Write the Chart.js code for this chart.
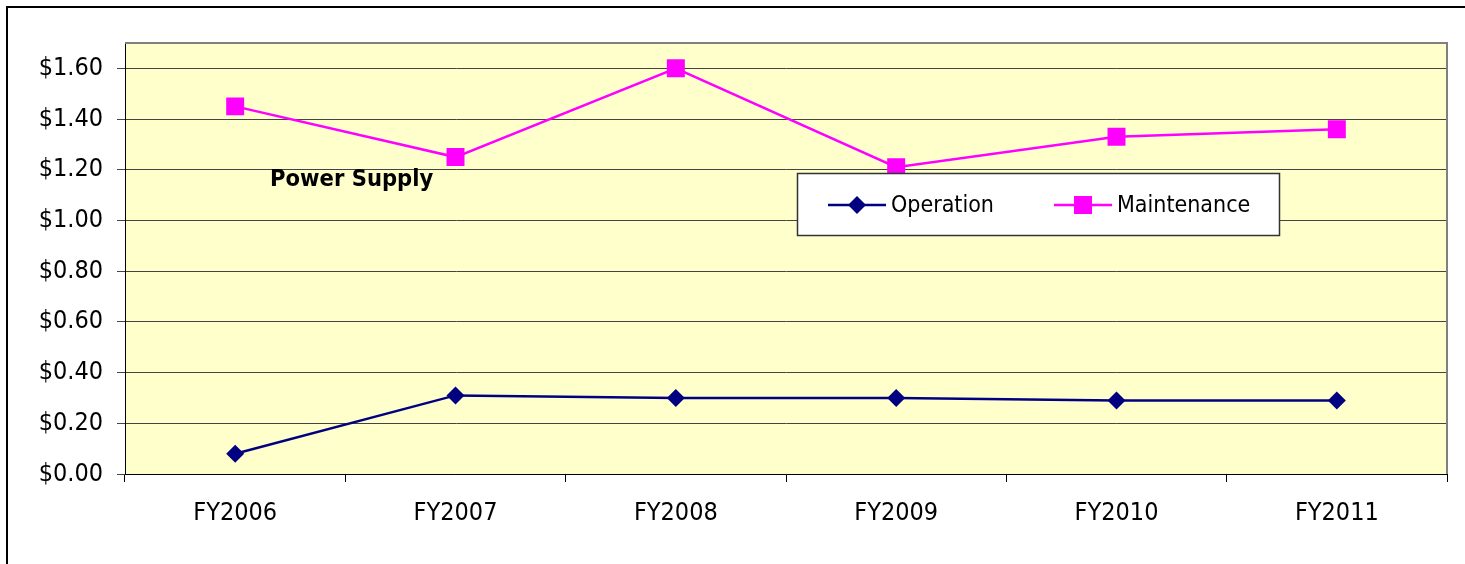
<!DOCTYPE html>
<html>
<head>
<meta charset="utf-8">
<script src="https://cdn.jsdelivr.net/npm/chart.js@4/dist/chart.umd.min.js"></script>
<style>
  html, body { margin: 0; padding: 0; background: #fff; }
  #wrap { width: 1465px; height: 564px; }
</style>
</head>
<body>
<div id="wrap"><canvas id="myChart" width="1465" height="564"></canvas></div>
<script>
var categories = ['FY2006', 'FY2007', 'FY2008', 'FY2009', 'FY2010', 'FY2011'];
var operation = [0.08, 0.31, 0.30, 0.30, 0.29, 0.29];
var maintenance = [1.45, 1.25, 1.60, 1.21, 1.33, 1.36];
var yTicks = [0, 0.2, 0.4, 0.6, 0.8, 1.0, 1.2, 1.4, 1.6];
var yMax = 1.7;
var annotationText = 'Power Supply';

var fontFamily = '"DejaVu Sans Condensed", "DejaVu Sans", sans-serif';

// background, outer frame, plot border, legend box and the text label
const framePlugin = {
  id: 'framePlugin',
  beforeDraw(chart) {
    const ctx = chart.ctx;
    const a = chart.chartArea;
    ctx.save();
    ctx.fillStyle = '#fff';
    ctx.fillRect(0, 0, chart.width, chart.height);
    ctx.strokeStyle = '#000';
    ctx.lineWidth = 2;
    ctx.beginPath();
    ctx.moveTo(7, chart.height);
    ctx.lineTo(7, 7);
    ctx.lineTo(chart.width, 7);
    ctx.stroke();
    ctx.fillStyle = '#FFFFCC';
    ctx.fillRect(a.left, a.top, a.right - a.left, a.bottom - a.top);
    ctx.restore();
  },
  beforeDatasetsDraw(chart) {
    const ctx = chart.ctx;
    const a = chart.chartArea;
    ctx.save();
    ctx.strokeStyle = '#808080';
    ctx.lineWidth = 2;
    ctx.beginPath();
    ctx.moveTo(a.left, a.top);
    ctx.lineTo(a.right, a.top);
    ctx.lineTo(a.right, a.bottom);
    ctx.stroke();
    ctx.restore();
  },
  afterDraw(chart) {
    const ctx = chart.ctx;
    ctx.save();
    // label
    ctx.fillStyle = '#000';
    ctx.font = 'bold 23.5px ' + fontFamily;
    ctx.textBaseline = 'middle';
    ctx.textAlign = 'left';
    ctx.fillText(annotationText, 270, 180);

    // legend box
    const bx = 797, by = 173, bw = 482, bh = 62;
    ctx.fillStyle = '#fff';
    ctx.fillRect(bx, by, bw, bh);
    ctx.strokeStyle = '#333';
    ctx.lineWidth = 1.5;
    ctx.strokeRect(bx + 0.5, by + 0.5, bw, bh);

    const starts = [828, 1054];
    const cy = 205;
    ctx.font = '23px ' + fontFamily;
    chart.data.datasets.forEach(function(ds, i) {
      const x0 = starts[i];
      ctx.strokeStyle = ds.borderColor;
      ctx.lineWidth = 2.5;
      ctx.beginPath();
      ctx.moveTo(x0, cy);
      ctx.lineTo(x0 + 58, cy);
      ctx.stroke();
      const mx = x0 + 29;
      ctx.fillStyle = ds.pointBackgroundColor;
      ctx.beginPath();
      if (ds.pointStyle === 'rectRot') {
        ctx.moveTo(mx - 9, cy);
        ctx.lineTo(mx, cy - 9);
        ctx.lineTo(mx + 9, cy);
        ctx.lineTo(mx, cy + 9);
        ctx.closePath();
      } else {
        ctx.rect(mx - 9, cy - 9, 18, 18);
      }
      ctx.fill();
      ctx.fillStyle = '#000';
      ctx.fillText(ds.label, x0 + 63, cy + 1);
    });
    ctx.restore();
  }
};

const ctx = document.getElementById('myChart');

new Chart(ctx, {
  type: 'line',
  data: {
    labels: categories,
    datasets: [{
      label: 'Operation',
      data: operation,
      borderColor: '#000080',
      backgroundColor: '#000080',
      pointBackgroundColor: '#000080',
      pointBorderColor: '#000080',
      pointStyle: 'rectRot',
      pointRadius: 9,
      pointBorderWidth: 0,
      borderWidth: 2.5,
      tension: 0
    }, {
      label: 'Maintenance',
      data: maintenance,
      borderColor: '#FF00FF',
      backgroundColor: '#FF00FF',
      pointBackgroundColor: '#FF00FF',
      pointBorderColor: '#FF00FF',
      pointStyle: 'rect',
      pointRadius: 12.7,
      pointBorderWidth: 0,
      borderWidth: 2.5,
      tension: 0
    }]
  },
  options: {
    responsive: false,
    animation: false,
    devicePixelRatio: 1,
    layout: {
      padding: { left: 0, top: 43, right: 18, bottom: 0 }
    },
    plugins: {
      legend: { display: false },
      tooltip: { enabled: false }
    },
    scales: {
      x: {
        offset: true,
        grid: {
          offset: true,
          drawOnChartArea: false,
          drawTicks: true,
          tickLength: 8,
          color: '#000'
        },
        border: { color: '#000', width: 1 },
        ticks: {
          color: '#000',
          font: { family: fontFamily, size: 25 },
          padding: 16,
          maxRotation: 0
        },
        afterFit: function(scale) { scale.height = 90; }
      },
      y: {
        min: 0,
        max: yMax,
        afterBuildTicks: function(scale) {
          scale.ticks = yTicks.map(function(v) { return { value: v }; });
        },
        grid: {
          color: '#444',
          tickLength: 8,
          drawTicks: true
        },
        border: { color: '#000', width: 1 },
        ticks: {
          color: '#000',
          font: { family: fontFamily, size: 25 },
          padding: 14,
          callback: function(v) { return '$' + Number(v).toFixed(2); }
        },
        afterFit: function(scale) { scale.width = 125; }
      }
    }
  },
  plugins: [framePlugin]
});
</script>
</body>
</html>
